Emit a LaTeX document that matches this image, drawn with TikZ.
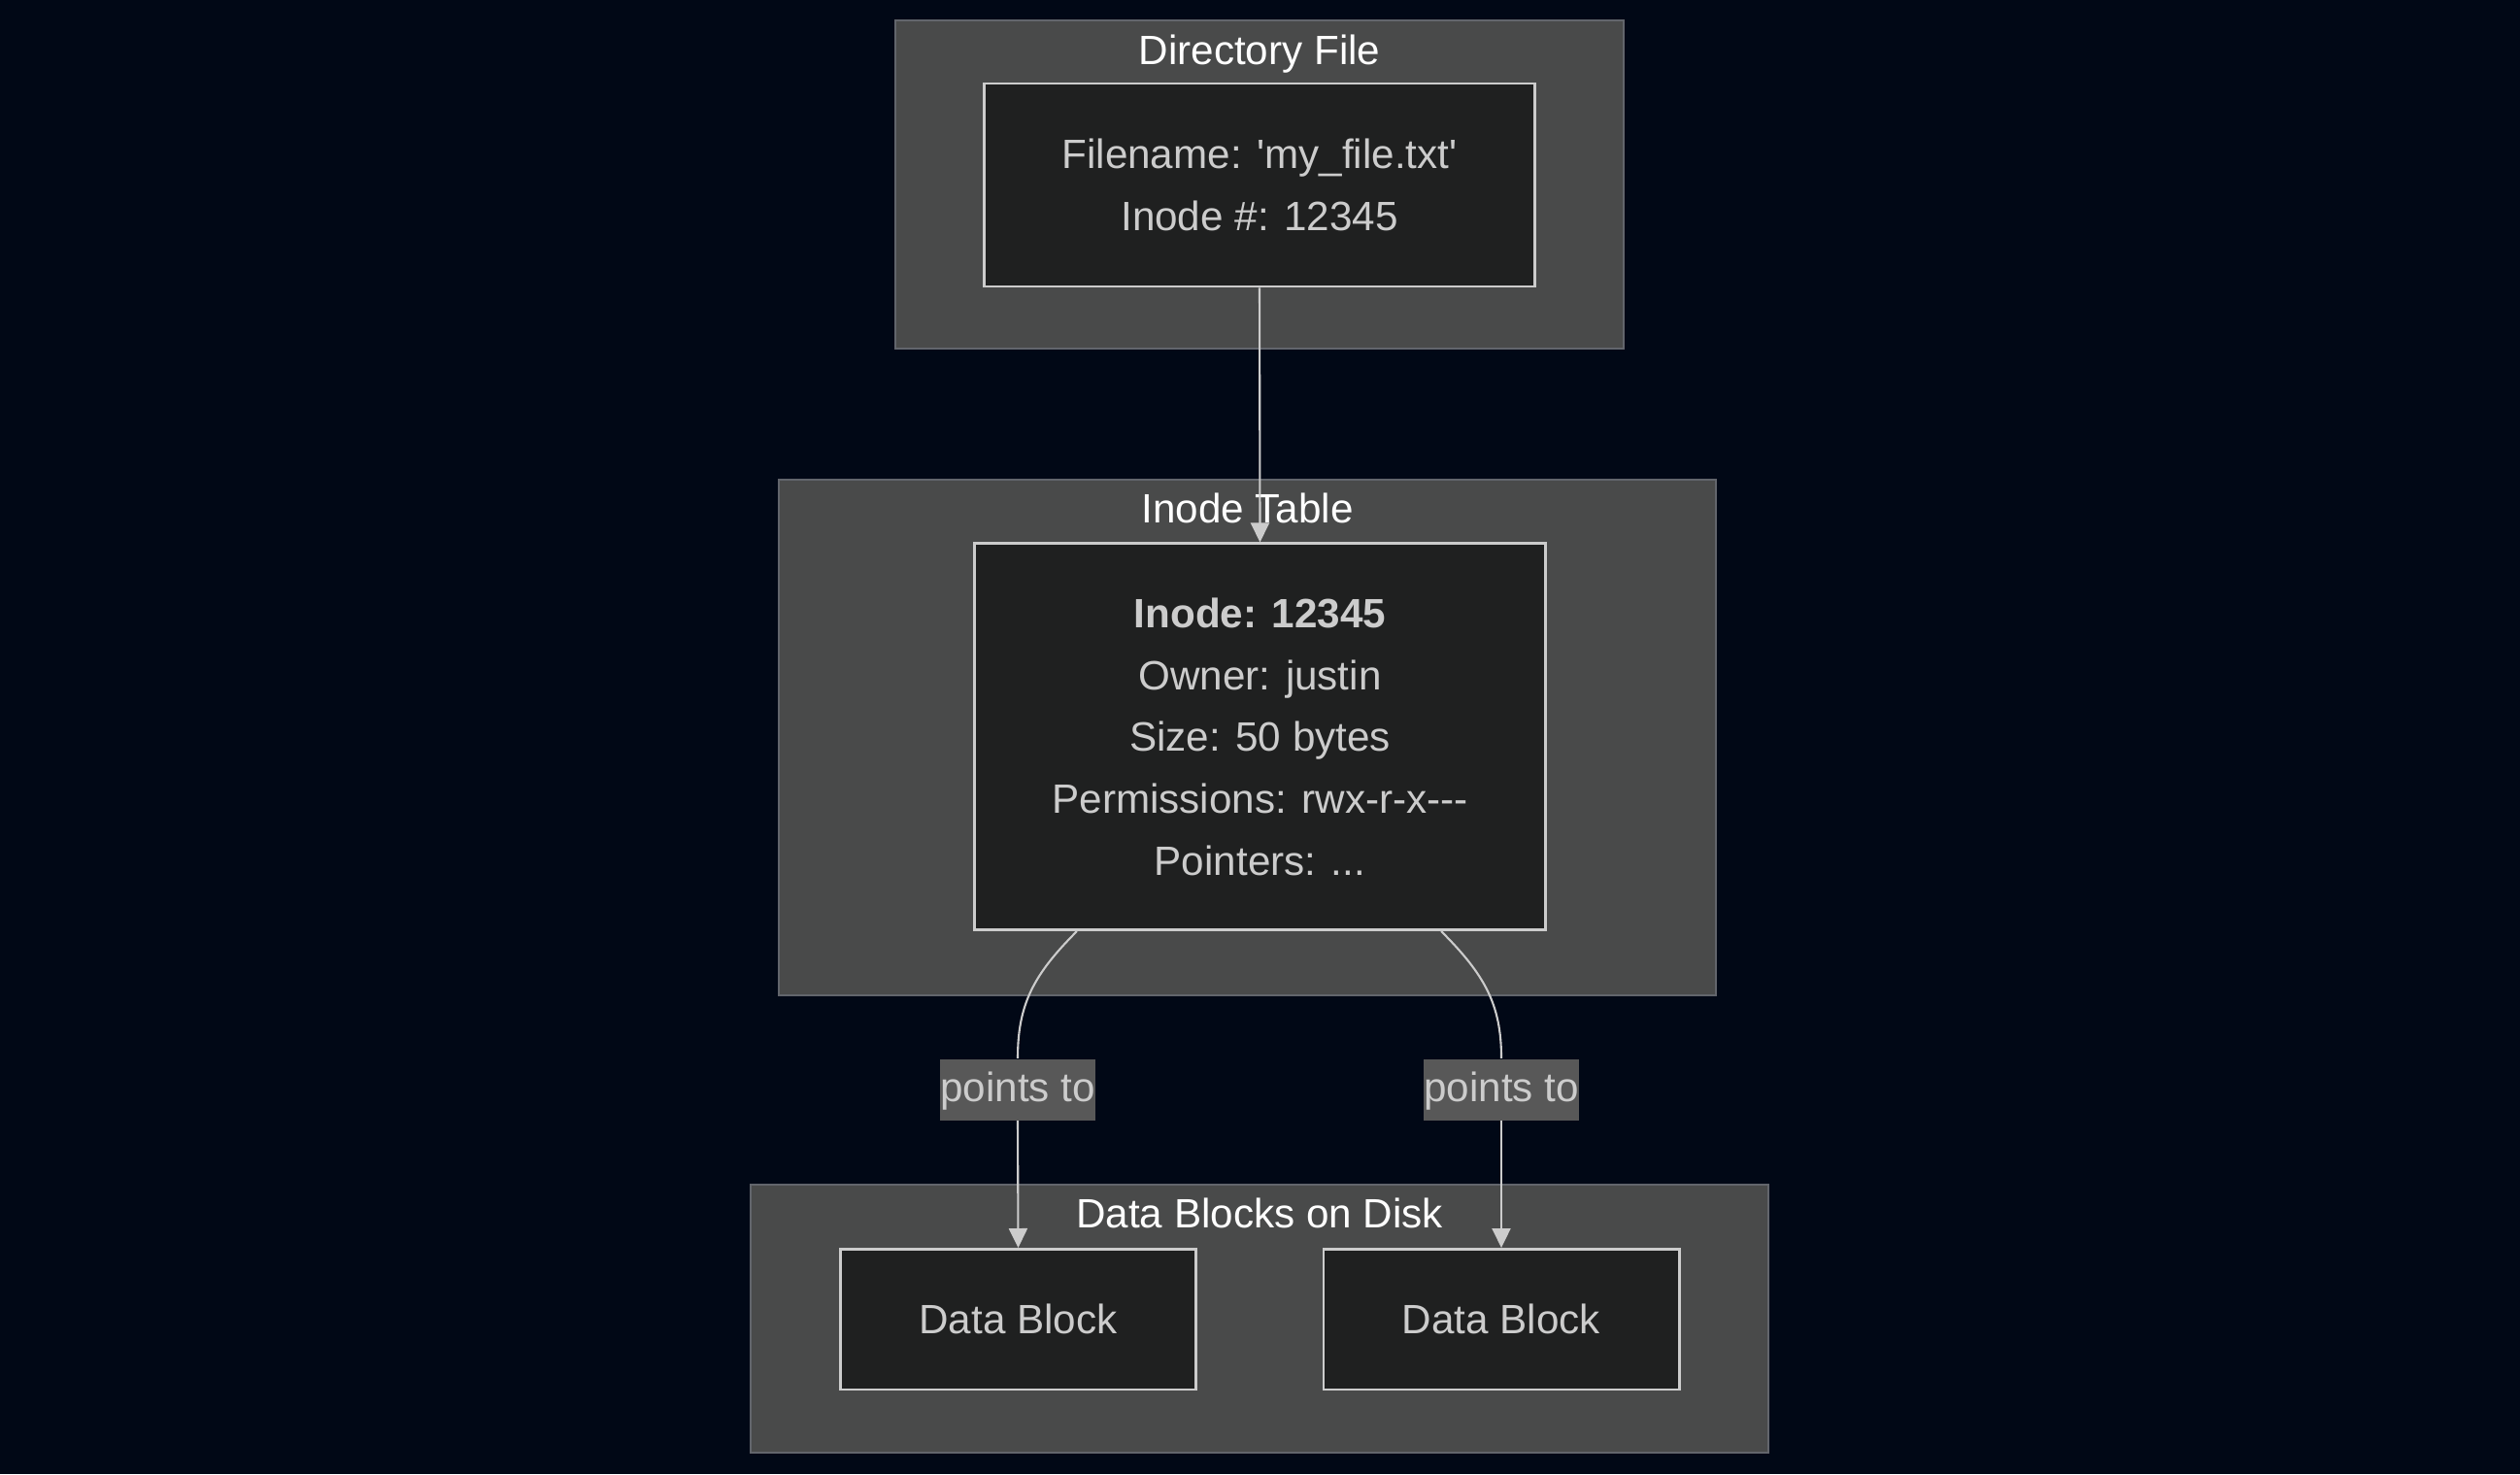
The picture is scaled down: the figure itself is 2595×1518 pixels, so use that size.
\documentclass[tikz,border=0pt]{standalone}
\usepackage{fontspec}
\setmainfont{Liberation Sans}
\usetikzlibrary{arrows.meta}

\definecolor{bgnavy}{HTML}{010816}
\definecolor{clusterfill}{HTML}{494A4A}
\definecolor{clusterline}{HTML}{62656C}
\definecolor{boxfill}{HTML}{1F2020}
\definecolor{boxline}{HTML}{CCCCCC}
\definecolor{boxtext}{HTML}{CCCCCC}
\definecolor{labelfill}{HTML}{585858}

\tikzset{
  cluster/.style={draw=clusterline, fill=clusterfill, line width=0.6pt, inner sep=0pt},
  clustertitle/.style={text=white, anchor=base, inner sep=0pt},
  entry/.style={draw=boxline, fill=boxfill, text=boxtext, line width=0.8pt, inner sep=0pt, align=center},
  edgelabel/.style={fill=labelfill, text=boxtext, inner xsep=0pt, inner ysep=0pt,
    text height=8.6pt, text depth=1.6pt, minimum height=0.63cm},
  link/.style={draw=boxline, line width=0.6pt},
  linkarrow/.style={link, -{Triangle[length=0.2cm, width=0.19cm]}}
}

\begin{document}
\begin{tikzpicture}[x=0.01cm, y=-0.01cm, font=\fontsize{12pt}{18.1pt}\selectfont]
    % Background of the whole page
    \fill[bgnavy] (0,0) rectangle (2595,1518);
    \useasboundingbox (0,0) rectangle (2595,1518);

    % Draw the three clusters
    \node[cluster, minimum width=7.5cm, minimum height=3.38cm] (dircluster) at (1297,190) {};
    \node[cluster, minimum width=9.65cm, minimum height=5.31cm] (inodecluster) at (1284.5,759.5) {};
    \node[cluster, minimum width=10.48cm, minimum height=2.76cm] (diskcluster) at (1297,1358) {};

    % Cluster titles
    \node[clustertitle] (dirtitle) at (1297,66) {Directory File};
    \node[clustertitle] (inodetitle) at (1284.5,538) {Inode Table};
    \node[clustertitle] (disktitle) at (1297,1264) {Data Blocks on Disk};

    % Directory entry
    \node[entry, minimum width=5.66cm, minimum height=2.09cm] (dirent) at (1297,190.5)
        {Filename: \textquotesingle my\_file.txt\textquotesingle\\Inode \#: 12345};

    % The inode itself
    \node[entry, minimum width=5.87cm, minimum height=3.975cm] (inodeent) at (1297.5,758.75)
        {\textbf{Inode: 12345}\\Owner: justin\\Size: 50 bytes\\Permissions: rwx-r-x-{}-{}-\\Pointers: ...};

    % Data blocks
    \node[entry, minimum width=3.66cm, minimum height=1.445cm] (block1) at (1048.5,1358.7) {Data Block};
    \node[entry, minimum width=3.66cm, minimum height=1.445cm] (block2) at (1546,1358.7) {Data Block};

    % Edge labels
    \node[edgelabel] (ptr1) at (1048,1122) {points to};
    \node[edgelabel] (ptr2) at (1546,1122) {points to};

    % Draw the connectors
    \draw[linkarrow] (dirent.south) -- (inodeent.north);

    \draw[link] ([xshift=-1.885cm]inodeent.south) .. controls +(-45,45) and +(0,-55) .. (ptr1.north);
    \draw[linkarrow] (ptr1.south) -- (block1.north);

    \draw[link] ([xshift=1.865cm]inodeent.south) .. controls +(45,45) and +(0,-55) .. (ptr2.north);
    \draw[linkarrow] (ptr2.south) -- (block2.north);

\end{tikzpicture}
\end{document}
